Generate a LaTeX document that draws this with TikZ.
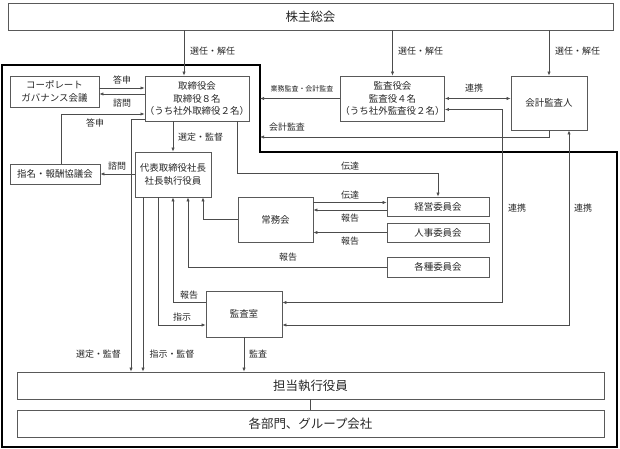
\documentclass[tikz,border=0pt]{standalone}
\usepackage{fontspec}
\setmainfont{Noto Sans CJK JP}
\usetikzlibrary{arrows.meta}
\begin{document}
\begin{tikzpicture}[x=1bp,y=-1bp,
  box/.style={draw=black!65, line width=0.7bp, inner sep=0pt, align=center, text=black!85,
     font=\fontsize{9.5}{13}\selectfont},
  big/.style={box, font=\fontsize{12.5}{14}\selectfont},
  con/.style={draw=black!70, line width=0.6bp},
  arr/.style={con, -{Latex[length=4bp,width=3.2bp]}},
  arr2/.style={con, {Latex[length=4bp,width=3.2bp]}-{Latex[length=4bp,width=3.2bp]}},
  lbl/.style={inner sep=0pt, text=black!85, font=\fontsize{9}{10}\selectfont},
  slbl/.style={inner sep=0pt, text=black!85, font=\fontsize{7}{8}\selectfont},
  frame/.style={draw=black, line width=1.4bp}
]
\useasboundingbox (0,0) rectangle (620,449);
% executive area frame
\draw[frame] (2,65) -- (260,65) -- (260,152) -- (617,152) -- (617,447) -- (2,447) -- cycle;
\coordinate (bx) at (260,100);

% nodes
\node[big, minimum width=605bp, minimum height=27bp] (kabu) at (310.5,16.5) {株主総会};
\node[box, minimum width=89bp, minimum height=31bp] (cg) at (54.5,91.5) {コーポレート\\ガバナンス会議};
\node[box, minimum width=102bp, minimum height=45bp] (tori) at (197,98.5) {取締役会\\取締役８名\\（うち社外取締役２名）};
\node[box, minimum width=103bp, minimum height=45bp] (kansa) at (392.5,98.5) {監査役会\\監査役４名\\（うち社外監査役２名）};
\node[box, minimum width=76bp, minimum height=54bp] (kaikei) at (549,103) {会計監査人};
\node[box, minimum width=90bp, minimum height=20bp] (shimei) at (55,174) {指名・報酬協議会};
\node[box, minimum width=76bp, minimum height=45bp] (daihyo) at (173,174.5) {代表取締役社長\\社長執行役員};
\node[box, minimum width=75bp, minimum height=45bp] (jomu) at (275.5,219.5) {常務会};
\node[box, minimum width=102bp, minimum height=19bp] (keiei) at (438,206.5) {経営委員会};
\node[box, minimum width=102bp, minimum height=19bp] (jinji) at (438,232.5) {人事委員会};
\node[box, minimum width=102bp, minimum height=20bp] (kakushu) at (438,267) {各種委員会};
\node[box, minimum width=76bp, minimum height=46bp] (shitsu) at (244,314) {監査室};
\node[big, minimum width=587bp, minimum height=27bp] (tanto) at (310.5,385.5) {担当執行役員};
\node[big, minimum width=587bp, minimum height=27bp] (kakubu) at (310.5,423.5) {各部門、グループ会社};

% helper coordinates
\coordinate (x184) at (184,0);
\coordinate (y88) at (0,88);
\coordinate (y94) at (0,94);
\coordinate (b61) at (61,114);
\coordinate (y119) at (0,119.5);
\coordinate (x131) at (131,0);
\coordinate (x143) at (143,0);
\coordinate (b237) at (237,173);
\coordinate (y98) at (0,98.5);
\coordinate (b549) at (549,137);
\coordinate (y109) at (0,109.5);
\coordinate (b502) at (502,302.5);
\coordinate (b569) at (569,325);
\coordinate (y203) at (0,202.5);
\coordinate (y210) at (0,210);
\coordinate (b188) at (188,267);
\coordinate (b203) at (203,219.5);
\coordinate (b173) at (173,302.5);
\coordinate (b158) at (158,325);

% connectors
\draw[arr] (kabu.south -| x184) -- (tori.north -| x184);
\node[lbl, anchor=west] at (190,51) {選任・解任};
\draw[arr] (kabu.south -| kansa.north) -- (kansa.north);
\node[lbl, anchor=west] at (398,51) {選任・解任};
\draw[arr] (kabu.south -| kaikei.north) -- (kaikei.north);
\node[lbl, anchor=west] at (555,51) {選任・解任};

\draw[arr] (cg.east |- y88) -- (tori.west |- y88);
\node[lbl] at (122,80.5) {答申};
\draw[arr] (tori.west |- y94) -- (cg.east |- y94);
\node[lbl] at (122,103) {諮問};

\draw[arr] (shimei.north -| b61) |- (tori.west |- b61);
\node[lbl] at (95,123) {答申};
\draw[arr] (daihyo.west |- shimei.east) -- (shimei.east);
\node[lbl] at (117,166.5) {諮問};

\draw[arr] (tori.south -| daihyo.north) -- (daihyo.north);
\node[lbl, anchor=west] at (178,137) {選定・監督};

\draw[arr] (tori.west |- y119) -| (tanto.north -| x131);
\node[lbl] at (98.5,354) {選定・監督};
\draw[arr] (daihyo.south -| x143) -- (tanto.north -| x143);
\node[lbl] at (172,354) {指示・監督};

\draw[arr] (tori.south -| b237) -- (b237) -| (keiei.north);
\node[lbl] at (350,166) {伝達};

\draw[arr] (kansa.west) -- (kansa.west -| bx);
\node[slbl] at (302,88.5) {業務監査・会計監査};
\draw[arr] (kaikei.south -| b549) -- (b549) -- (b549 -| bx);
\node[lbl] at (287,127) {会計監査};

\draw[arr2] (kansa.east |- y98) -- (kaikei.west |- y98);
\node[lbl] at (474,88) {連携};
\draw[arr2] (kansa.east |- y109) -| (b502) -- (shitsu.east |- b502);
\node[lbl] at (517,208) {連携};
\draw[arr2] (kaikei.south -| b569) -- (b569) -- (shitsu.east |- b569);
\node[lbl] at (583,208) {連携};

\draw[arr] (jomu.east |- y203) -- (keiei.west |- y203);
\node[lbl] at (350,195) {伝達};
\draw[arr] (keiei.west |- y210) -- (jomu.east |- y210);
\node[lbl] at (350,218.5) {報告};
\draw[arr] (jinji.west) -- (jomu.east |- jinji.west);
\node[lbl] at (350,241) {報告};

\draw[arr] (kakushu.west) -- (b188) -- (daihyo.south -| b188);
\node[lbl] at (288,257.5) {報告};
\draw[arr] (jomu.west) -- (b203) -- (daihyo.south -| b203);

\draw[arr] (shitsu.west |- b173) -- (b173) -- (daihyo.south -| b173);
\node[lbl] at (189,295) {報告};
\draw[arr] (daihyo.south -| b158) -- (b158) -- (shitsu.west |- b158);
\node[lbl] at (182,317) {指示};

\draw[arr] (shitsu.south) -- (tanto.north -| shitsu.south);
\node[lbl, anchor=west] at (249,354) {監査};

\draw[con] (tanto.south -| kakubu.north) -- (kakubu.north);
\end{tikzpicture}
\end{document}
